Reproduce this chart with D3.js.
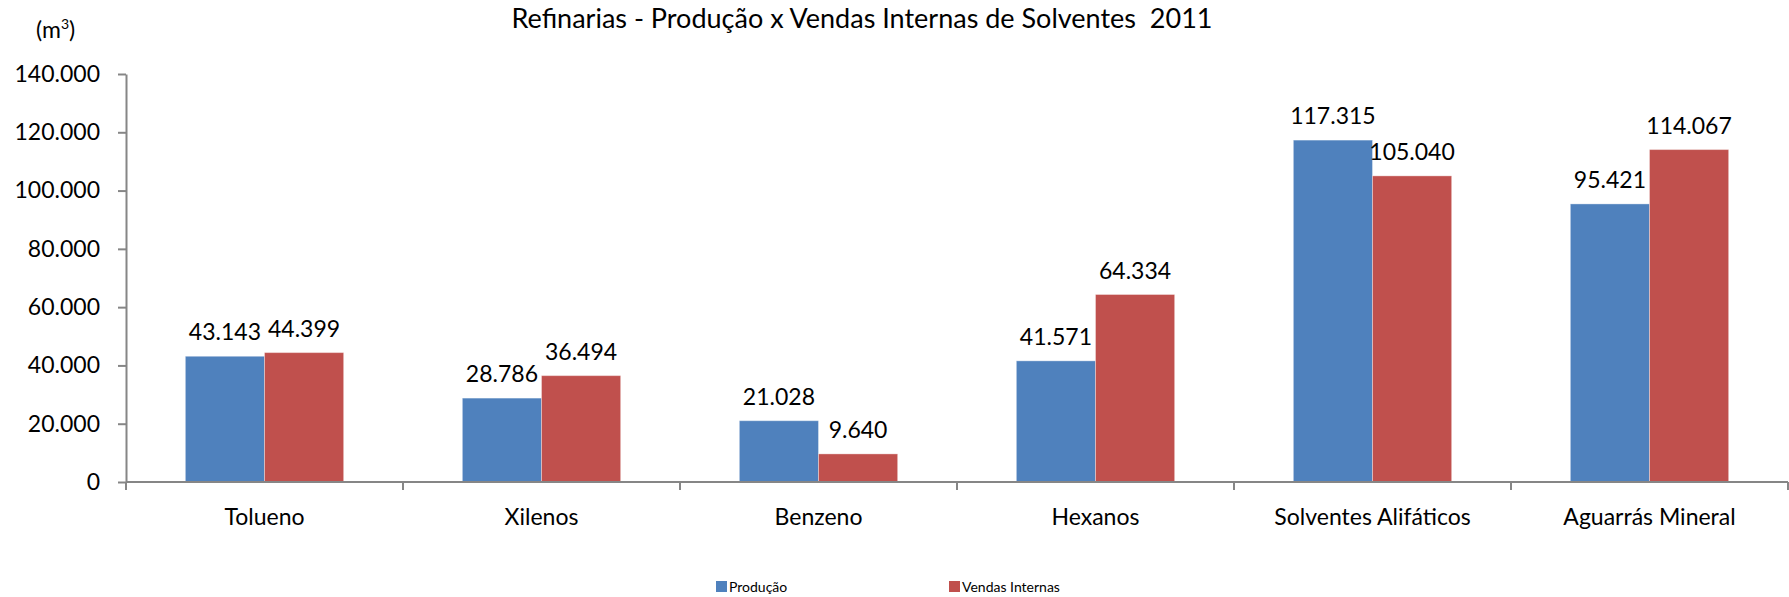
<!DOCTYPE html>
<html>
<head>
<meta charset="utf-8">
<script src="https://cdn.jsdelivr.net/npm/d3@7"></script>
<style>
  body { margin: 0; background: #fff; }
  text { font-family: Lato, "Open Sans", sans-serif; fill: #000; }
  .axis path, .axis line { stroke: #868686; stroke-width: 2; }
</style>
</head>
<body>
<div id="chart"></div>
<script>
// Dados
const categorias = ["Tolueno", "Xilenos", "Benzeno", "Hexanos", "Solventes Alifáticos", "Aguarrás Mineral"];
const series = ["Produção", "Vendas Internas"];
const producao = [43143, 28786, 21028, 41571, 117315, 95421];
const vendasInternas = [44399, 36494, 9640, 64334, 105040, 114067];
const yTicks = [0, 20000, 40000, 60000, 80000, 100000, 120000, 140000];
const cores = ["#4F81BD", "#C0504D"];

const W = 1789, H = 597;
const margin = { top: 74, right: 1, bottom: 115, left: 126 };
const width = W - margin.left - margin.right;
const height = H - margin.top - margin.bottom;

const fmt = d3.formatLocale({ decimal: ",", thousands: ".", grouping: [3], currency: ["R$", ""] }).format(",d");

const svg = d3.select("#chart").append("svg")
    .attr("width", W)
    .attr("height", H);

const g = svg.append("g")
    .attr("transform", `translate(${margin.left},${margin.top})`);

// Escalas
const x0 = d3.scaleBand().domain(categorias).range([0, width]).padding(0);
const x1 = d3.scaleBand().domain(series).range([0, x0.bandwidth()]).paddingInner(0).paddingOuter(0.75);
const y = d3.scaleLinear().domain([0, 140000]).range([height, 0]);

// Eixo Y
g.append("g")
    .attr("class", "axis")
    .call(d3.axisLeft(y).tickValues(yTicks).tickFormat(fmt).tickSize(8).tickSizeOuter(0).tickPadding(18))
    .call(s => s.selectAll("text").style("font-size", "23px").attr("fill", "#000"));

// Barras
const dados = categorias.map((c, i) => ({ cat: c, vals: [producao[i], vendasInternas[i]] }));

const grupos = g.selectAll(".grupo")
    .data(dados)
    .enter().append("g")
    .attr("class", "grupo")
    .attr("transform", d => `translate(${x0(d.cat)},0)`);

grupos.selectAll("rect")
    .data(d => d.vals.map((v, j) => ({ serie: series[j], v: v, j: j })))
    .enter().append("rect")
    .attr("x", d => x1(d.serie))
    .attr("y", d => y(d.v))
    .attr("width", x1.bandwidth())
    .attr("height", d => height - y(d.v))
    .attr("fill", d => cores[d.j])
    .attr("stroke", "rgba(255,255,255,0.35)")
    .attr("stroke-width", 1);

// Rótulos de dados
grupos.selectAll(".rotulo")
    .data(d => d.vals.map((v, j) => ({ serie: series[j], v: v })))
    .enter().append("text")
    .attr("class", "rotulo")
    .attr("x", d => x1(d.serie) + x1.bandwidth() / 2)
    .attr("y", d => y(d.v) - 16)
    .attr("text-anchor", "middle")
    .style("font-size", "23px")
    .text(d => fmt(d.v));

// Eixo X
const xAxis = g.append("g")
    .attr("class", "axis")
    .attr("transform", `translate(0,${height})`);

xAxis.append("line")
    .attr("x1", 0).attr("x2", width)
    .attr("y1", 0).attr("y2", 0);

xAxis.selectAll(".tick-x")
    .data(d3.range(categorias.length + 1))
    .enter().append("line")
    .attr("class", "tick-x")
    .attr("x1", i => i * x0.step()).attr("x2", i => i * x0.step())
    .attr("y1", 0).attr("y2", 8);

xAxis.selectAll(".label-x")
    .data(categorias)
    .enter().append("text")
    .attr("class", "label-x")
    .attr("x", d => x0(d) + x0.bandwidth() / 2)
    .attr("y", 43)
    .attr("text-anchor", "middle")
    .style("font-size", "23px")
    .text(d => d);

// Título
svg.append("text")
    .attr("x", 862)
    .attr("y", 28)
    .attr("text-anchor", "middle")
    .style("font-size", "27px")
    .style("white-space", "pre")
    .text("Refinarias - Produção x Vendas Internas de Solventes  2011");

// Unidade
const unid = svg.append("text")
    .attr("x", 36)
    .attr("y", 38)
    .style("font-size", "23px");
unid.append("tspan").text("(m");
unid.append("tspan").attr("dy", -9).style("font-size", "14px").text("3");
unid.append("tspan").attr("dy", 9).text(")");

// Legenda
const legenda = svg.append("g").attr("transform", "translate(716,581)");
const posLeg = [0, 233];
series.forEach((s, i) => {
    legenda.append("rect")
        .attr("x", posLeg[i]).attr("y", 0)
        .attr("width", 11).attr("height", 11)
        .attr("fill", cores[i]);
    legenda.append("text")
        .attr("x", posLeg[i] + 13).attr("y", 11)
        .style("font-size", "14px")
        .text(s);
});
</script>
</body>
</html>
